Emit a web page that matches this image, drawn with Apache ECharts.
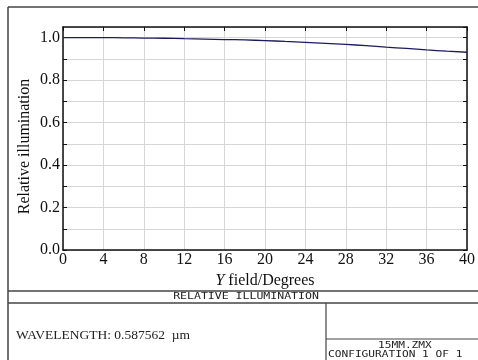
<!DOCTYPE html>
<html>
<head>
<meta charset="utf-8">
<script src="https://cdn.jsdelivr.net/npm/echarts@6/dist/echarts.min.js"></script>
<style>
  html, body { margin: 0; padding: 0; background: #fff; }
  #chart { width: 478px; height: 360px; }
</style>
</head>
<body>
<div id="chart"></div>
<script>
// field angle (degrees) and relative illumination
const fieldAngles = [0, 2, 4, 6, 8, 10, 12, 14, 16, 18, 20, 22, 24, 26, 28, 30, 32, 34, 36, 38, 40];
const illumination = [1.0, 1.0, 1.0, 0.999, 0.998, 0.997, 0.995, 0.993, 0.991, 0.989, 0.986, 0.982, 0.978, 0.973, 0.968, 0.962, 0.955, 0.949, 0.942, 0.936, 0.931];
const xTicks = [0, 4, 8, 12, 16, 20, 24, 28, 32, 36, 40];
const yLabels = [0, 0.2, 0.4, 0.6, 0.8, 1.0];

const frameColor = "#444";
const serif = "Liberation Serif";
const mono = "DejaVu Sans Mono";

const chart = echarts.init(document.getElementById("chart"));
const option = {
  animation: false,
  backgroundColor: "#fff",
  grid: {
    left: 63,
    top: 27,
    right: 10,
    bottom: 110
  },
  xAxis: [
    {
      type: "value",
      min: 0,
      max: 40,
      interval: 4,
      name: "{i|Y} field/Degrees",
      nameLocation: "middle",
      nameGap: 21,
      nameTextStyle: {
        fontFamily: serif,
        fontSize: 16,
        color: "#111",
        rich: {
          i: { fontFamily: serif, fontSize: 16, fontStyle: "italic", color: "#111" }
        }
      },
      axisLine: { show: true, onZero: false, lineStyle: { color: "#111", width: 1.5 } },
      axisTick: { show: false },
      axisLabel: {
        color: "#111",
        fontFamily: serif,
        fontSize: 16,
        margin: 2,
        formatter: v => (xTicks.indexOf(v) >= 0 ? String(v) : "")
      },
      splitLine: { show: true, lineStyle: { color: "#d6d6d6", width: 1 } }
    },
    {
      type: "value",
      position: "top",
      min: 0,
      max: 40,
      interval: 4,
      axisLine: { show: true, onZero: false, lineStyle: { color: "#111", width: 1.5 } },
      axisTick: { show: true, inside: true, length: 4, lineStyle: { color: "#111" } },
      axisLabel: { show: false },
      splitLine: { show: false }
    }
  ],
  yAxis: [
    {
      type: "value",
      min: 0,
      max: 1.05,
      interval: 0.1,
      name: "Relative illumination",
      nameLocation: "middle",
      nameGap: 30,
      nameMoveOverlap: false,
      nameTextStyle: { fontFamily: serif, fontSize: 16, color: "#111", padding: [0, 16, 0, 0] },
      axisLine: { show: true, onZero: false, lineStyle: { color: "#111", width: 1.5 } },
      axisTick: { show: true, inside: true, length: 4, lineStyle: { color: "#111" } },
      axisLabel: {
        color: "#111",
        fontFamily: serif,
        fontSize: 16,
        margin: 3,
        showMaxLabel: false,
        formatter: v => {
          const r = Math.round(v * 10) / 10;
          return yLabels.some(l => Math.abs(l - r) < 1e-6) ? r.toFixed(1) : "";
        }
      },
      splitLine: { show: true, lineStyle: { color: "#d6d6d6", width: 1 } }
    },
    {
      type: "value",
      position: "right",
      min: 0,
      max: 1.05,
      interval: 0.1,
      axisLine: { show: true, onZero: false, lineStyle: { color: "#111", width: 1.5 } },
      axisTick: { show: true, inside: true, length: 4, lineStyle: { color: "#111" } },
      axisLabel: { show: false },
      splitLine: { show: false }
    }
  ],
  series: [
    {
      type: "line",
      data: fieldAngles.map((a, i) => [a, illumination[i]]),
      showSymbol: false,
      smooth: true,
      lineStyle: { color: "#1c1c5c", width: 1.3 },
      z: 5
    }
  ],
  graphic: [
    // outer frame
    { type: "line", shape: { x1: 8, y1: 7, x2: 478, y2: 7 }, style: { stroke: frameColor, lineWidth: 1.5 } },
    { type: "line", shape: { x1: 8, y1: 7, x2: 8, y2: 360 }, style: { stroke: frameColor, lineWidth: 1.5 } },
    { type: "line", shape: { x1: 8, y1: 291, x2: 478, y2: 291 }, style: { stroke: frameColor, lineWidth: 1.5 } },
    { type: "line", shape: { x1: 8, y1: 303, x2: 478, y2: 303 }, style: { stroke: frameColor, lineWidth: 1.5 } },
    { type: "line", shape: { x1: 326, y1: 303, x2: 326, y2: 360 }, style: { stroke: frameColor, lineWidth: 1.2 } },
    { type: "line", shape: { x1: 326, y1: 339, x2: 478, y2: 339 }, style: { stroke: frameColor, lineWidth: 1.2 } },
    {
      type: "text", x: 246, y: 297, scaleX: 1.28,
      style: { text: "RELATIVE ILLUMINATION", font: "9px " + mono, fill: "#222", align: "center", verticalAlign: "middle" }
    },
    {
      type: "text", x: 16, y: 335,
      style: { text: "WAVELENGTH: 0.587562  µm", font: "13.5px " + serif, fill: "#222", align: "left", verticalAlign: "middle" }
    },
    {
      type: "text", x: 378, y: 346, scaleX: 1.24,
      style: { text: "15MM.ZMX", font: "9px " + mono, fill: "#222", align: "left", verticalAlign: "middle" }
    },
    {
      type: "text", x: 328, y: 355, scaleX: 1.24,
      style: { text: "CONFIGURATION 1 OF 1", font: "9px " + mono, fill: "#222", align: "left", verticalAlign: "middle" }
    }
  ]
};
chart.setOption(option);
</script>
</body>
</html>
